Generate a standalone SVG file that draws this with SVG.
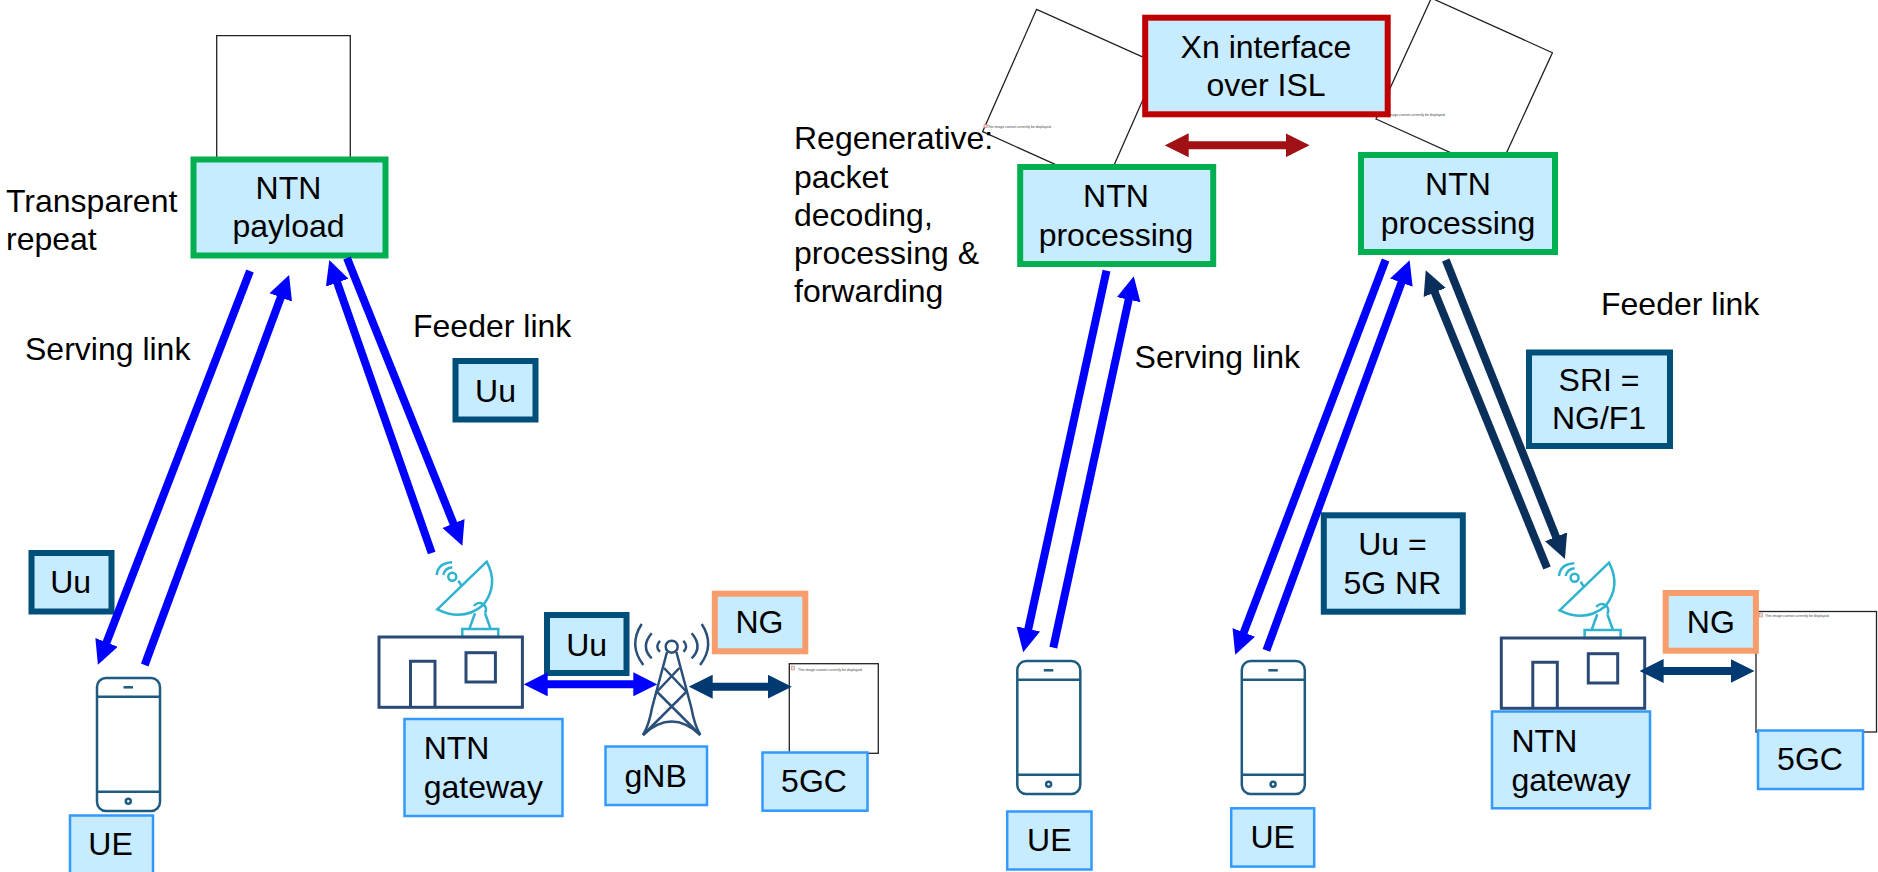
<svg xmlns="http://www.w3.org/2000/svg" width="1878" height="872" viewBox="0 0 1878 872">
<style>
text{font-family:"Liberation Sans",Arial,sans-serif;font-size:32px;fill:#000}
.c{text-anchor:middle}
.tiny{font-size:3.5px;fill:#444}
.blank{fill:#fff;stroke:#222;stroke-width:1.3}
.box{fill:#c7ebff}
.green{stroke:#00b050;stroke-width:6}
.red{stroke:#c00000;stroke-width:6}
.teal{stroke:#004f7a;stroke-width:6}
.orange{stroke:#f79d6b;stroke-width:6}
.label{stroke:#3399ff;stroke-width:2.5}
.phone *{fill:none;stroke:#1f5b80;stroke-width:2.5}
.dish *{fill:none;stroke:#2fb3cf;stroke-width:2.5}
.bld *{fill:none;stroke:#2a4a75;stroke-width:3}
.tower *{fill:none;stroke:#2a4f78;stroke-width:2.5}
.lnk{fill:none;stroke-width:8}
.b{stroke:#0000ff}.n{stroke:#0b2f5b}.d{stroke:#003a70}.r{stroke:#a01015}
</style>
<defs>
<marker id="mb" viewBox="0 -12 24 24" markerWidth="24" markerHeight="24" refX="1" refY="0" markerUnits="userSpaceOnUse" orient="auto-start-reverse"><path d="M0-12L24 0L0 12Z" fill="#0000ff"/></marker>
<marker id="mn" viewBox="0 -12 24 24" markerWidth="24" markerHeight="24" refX="1" refY="0" markerUnits="userSpaceOnUse" orient="auto-start-reverse"><path d="M0-12L24 0L0 12Z" fill="#0b2f5b"/></marker>
<marker id="md" viewBox="0 -12 24 24" markerWidth="24" markerHeight="24" refX="1" refY="0" markerUnits="userSpaceOnUse" orient="auto-start-reverse"><path d="M0-12L24 0L0 12Z" fill="#003a70"/></marker>
<marker id="mr" viewBox="0 -12 24 24" markerWidth="24" markerHeight="24" refX="1" refY="0" markerUnits="userSpaceOnUse" orient="auto-start-reverse"><path d="M0-12L24 0L0 12Z" fill="#a01015"/></marker>
<g id="phone" class="phone">
<rect x="97" y="678" width="63" height="133" rx="9"/>
<path d="M97 696.7H160M97 791.7H160"/>
<path d="M123.5 687.3H133" stroke-width="3"/>
<circle cx="128.3" cy="801.3" r="2.5"/>
</g>
<g id="gw">
<g class="dish">
<path d="M486.7 561.7L437.3 609.3Q463 622 483.3 605Q499 585 486.7 561.7Z"/>
<circle cx="452.3" cy="576.7" r="4"/>
<path d="M458.3 580.7L461.7 586M436.7 575Q438 563 452 562.3M443.3 575Q445 568 452.3 567.3"/>
<path d="M474 606A6.5 6.5 0 1 1 485 613M475 613.3L469.3 629M485 613.3L490.7 629"/>
<rect x="462.3" y="629" width="36" height="8"/>
</g>
<g class="bld">
<rect x="379" y="637" width="143.400" height="70.300"/>
<path d="M410.500 707.300V661.300H435V707.300"/>
<rect x="466" y="652.700" width="29.400" height="29.300"/>
</g>
</g>
</defs>

<g id="sat-left"><path class="blank" d="M216.700 160V35.700H350.300V160"/></g>
<g id="sat-mid">
<polygon class="blank" points="1036.600,9.300 982.600,131.700 1104.600,186.600 1158.600,64.200"/>
<rect x="984" y="124.500" width="3" height="3" fill="#ddd" stroke="#e66" stroke-width=".5"/>
<text class="tiny" x="987" y="128">This image cannot currently be displayed.</text>
</g>
<g id="sat-right">
<polygon class="blank" points="1431.400,-1.900 1376,119 1497,173.600 1552.400,52.700"/>
<rect x="1377" y="112.500" width="3" height="3" fill="#ddd" stroke="#e66" stroke-width=".5"/>
<text class="tiny" x="1381" y="116">This image cannot currently be displayed.</text>
</g>

<g id="ntn-payload"><rect class="box green" x="193.500" y="159.500" width="192" height="96"/><text class="c" x="288.500" y="199">NTN</text><text class="c" x="288.500" y="237">payload</text></g>
<g id="transparent-label"><text x="6" y="212">Transparent</text><text x="6" y="250">repeat</text></g>
<g id="serving-label-left"><text x="25" y="360">Serving link</text></g>
<g id="feeder-label-left"><text x="413" y="337">Feeder link</text></g>
<g id="uu-feeder"><rect class="box teal" x="455.500" y="361" width="80" height="58.500"/><text class="c" x="495.500" y="402">Uu</text></g>
<g id="uu-serving"><rect class="box teal" x="31.500" y="553" width="80" height="58.500"/><text class="c" x="70.600" y="593.300">Uu</text></g>
<g id="ue-phone-left"><use href="#phone"/></g>
<g id="ue-left"><rect class="box label" x="70" y="815.500" width="83" height="60"/><text class="c" x="110.500" y="855">UE</text></g>
<g id="gateway-left"><use href="#gw"/></g>
<g id="uu-mid"><rect class="box teal" x="547" y="615" width="79.500" height="58"/><text class="c" x="586.700" y="656">Uu</text></g>
<g id="gnb-tower" class="tower">
<circle cx="671.700" cy="646.700" r="6"/>
<path d="M667 652L652 708Q649 725 643 735M676.400 652L691.400 708Q694.400 725 700.300 735M643 735Q671.700 708 700.300 735"/>
<path d="M664 668L686.500 691.700L643 735M679.400 668L656.900 691.700L700.300 735"/>
<path d="M641.700 624Q628 645 643.300 665M651.700 633.300Q640 647 651.700 658.300M660 640.700Q654.500 647 660 651.700"/>
<path d="M701.700 624Q715.400 645 700.100 665M691.700 633.300Q703.400 647 691.700 658.300M683.400 640.700Q688.900 647 683.400 651.700"/>
</g>
<g id="ng-left"><rect class="box orange" x="714.800" y="593.700" width="90.500" height="57.600"/><text class="c" x="759.500" y="633.300">NG</text></g>
<g id="core-left">
<rect class="blank" x="789.300" y="663.700" width="89" height="89.600"/>
<rect x="791.500" y="666" width="3" height="4" fill="#ddd" stroke="#e66" stroke-width=".5"/>
<text class="tiny" x="798" y="670.500">This image cannot currently be displayed.</text>
</g>
<g id="ntn-gw-label-left"><rect class="box label" x="404.500" y="719" width="158" height="97"/><text x="423.700" y="759.300">NTN</text><text x="423.700" y="798.300">gateway</text></g>
<g id="gnb-label"><rect class="box label" x="605.500" y="746.500" width="101.500" height="58.500"/><text class="c" x="655.600" y="786.700">gNB</text></g>
<g id="core-label-left"><rect class="box label" x="762.500" y="752.500" width="105" height="58.200"/><text class="c" x="814" y="792.300">5GC</text></g>

<g id="xn-box"><rect class="box red" x="1145.200" y="17.700" width="242.500" height="96.600"/><text class="c" x="1266" y="58.300">Xn interface</text><text class="c" x="1266" y="96">over ISL</text></g>
<g id="regen-label"><text x="794" y="149">Regenerative:</text><text x="794" y="187.700">packet</text><text x="794" y="225.700">decoding,</text><text x="794" y="264.300">processing &amp;</text><text x="794" y="302.300">forwarding</text></g>
<g id="ntn-proc-left"><rect class="box green" x="1020.200" y="167" width="193" height="97"/><text class="c" x="1116" y="207.300">NTN</text><text class="c" x="1116" y="246">processing</text></g>
<g id="ntn-proc-right"><rect class="box green" x="1361" y="155" width="194" height="97"/><text class="c" x="1458" y="195.300">NTN</text><text class="c" x="1458" y="234">processing</text></g>
<g id="serving-label-right"><text x="1134.600" y="368.300">Serving link</text></g>
<g id="feeder-label-right"><text x="1601" y="315">Feeder link</text></g>
<g id="sri-box"><rect class="box teal" x="1529" y="352.500" width="141" height="93.500"/><text class="c" x="1599" y="391">SRI =</text><text class="c" x="1599" y="429">NG/F1</text></g>
<g id="uu-nr-box"><rect class="box teal" x="1323.800" y="515.300" width="139" height="96.400"/><text class="c" x="1392.400" y="555">Uu =</text><text class="c" x="1392.400" y="594">5G NR</text></g>
<g id="ue-phone-a"><use href="#phone" x="920.300" y="-17"/></g>
<g id="ue-phone-b"><use href="#phone" x="1144.800" y="-17"/></g>
<g id="ue-a"><rect class="box label" x="1007.200" y="811.500" width="84.300" height="58"/><text class="c" x="1049.300" y="851">UE</text></g>
<g id="ue-b"><rect class="box label" x="1231.200" y="808.300" width="83" height="58.300"/><text class="c" x="1272.700" y="848.300">UE</text></g>
<g id="gateway-right"><use href="#gw" x="1122.300" y="1"/></g>
<g id="core-right">
<rect class="blank" x="1756" y="611.500" width="120.500" height="120.500"/>
<rect x="1759.500" y="613" width="3" height="4" fill="#ddd" stroke="#e66" stroke-width=".5"/>
<text class="tiny" x="1765" y="617">This image cannot currently be displayed.</text>
</g>
<g id="ng-right"><rect class="box orange" x="1665.700" y="593" width="90.200" height="57.700"/><text class="c" x="1710.800" y="633.300">NG</text></g>
<g id="ntn-gw-label-right"><rect class="box label" x="1492" y="711.500" width="158" height="96.800"/><text x="1511.500" y="751.700">NTN</text><text x="1511.500" y="790.700">gateway</text></g>
<g id="core-label-right"><rect class="box label" x="1758" y="730.500" width="105" height="58.500"/><text class="c" x="1810" y="770">5GC</text></g>

<g id="connectors">
<path class="lnk b" d="M250 271L106.200 643.300" marker-end="url(#mb)"/>
<path class="lnk b" d="M144.700 665L281.100 296.500" marker-end="url(#mb)"/>
<path class="lnk b" d="M431.700 553L336.900 281.700" marker-end="url(#mb)"/>
<path class="lnk b" d="M347 258L453.800 524.400" marker-end="url(#mb)"/>
<path class="lnk b" d="M546.700 684.300H634.300" marker-start="url(#mb)" marker-end="url(#mb)"/>
<path class="lnk d" d="M711.700 686.700H768.800" marker-start="url(#md)" marker-end="url(#md)"/>
<path class="lnk r" d="M1187.700 145.300H1286.600" marker-start="url(#mr)" marker-end="url(#mr)"/>
<path class="lnk b" d="M1106.500 270.700L1028.100 629.900" marker-end="url(#mb)"/>
<path class="lnk b" d="M1053.300 647.700L1128.900 298.700" marker-end="url(#mb)"/>
<path class="lnk b" d="M1385.600 260L1243.400 633.300" marker-end="url(#mb)"/>
<path class="lnk b" d="M1266.400 650.300L1401.700 281.800" marker-end="url(#mb)"/>
<path class="lnk n" d="M1547 568L1434.400 291.500" marker-end="url(#mn)"/>
<path class="lnk n" d="M1445.800 260L1556.400 537.700" marker-end="url(#mn)"/>
<path class="lnk d" d="M1662.600 671H1731.500" marker-start="url(#md)" marker-end="url(#md)"/>
</g>
</svg>
